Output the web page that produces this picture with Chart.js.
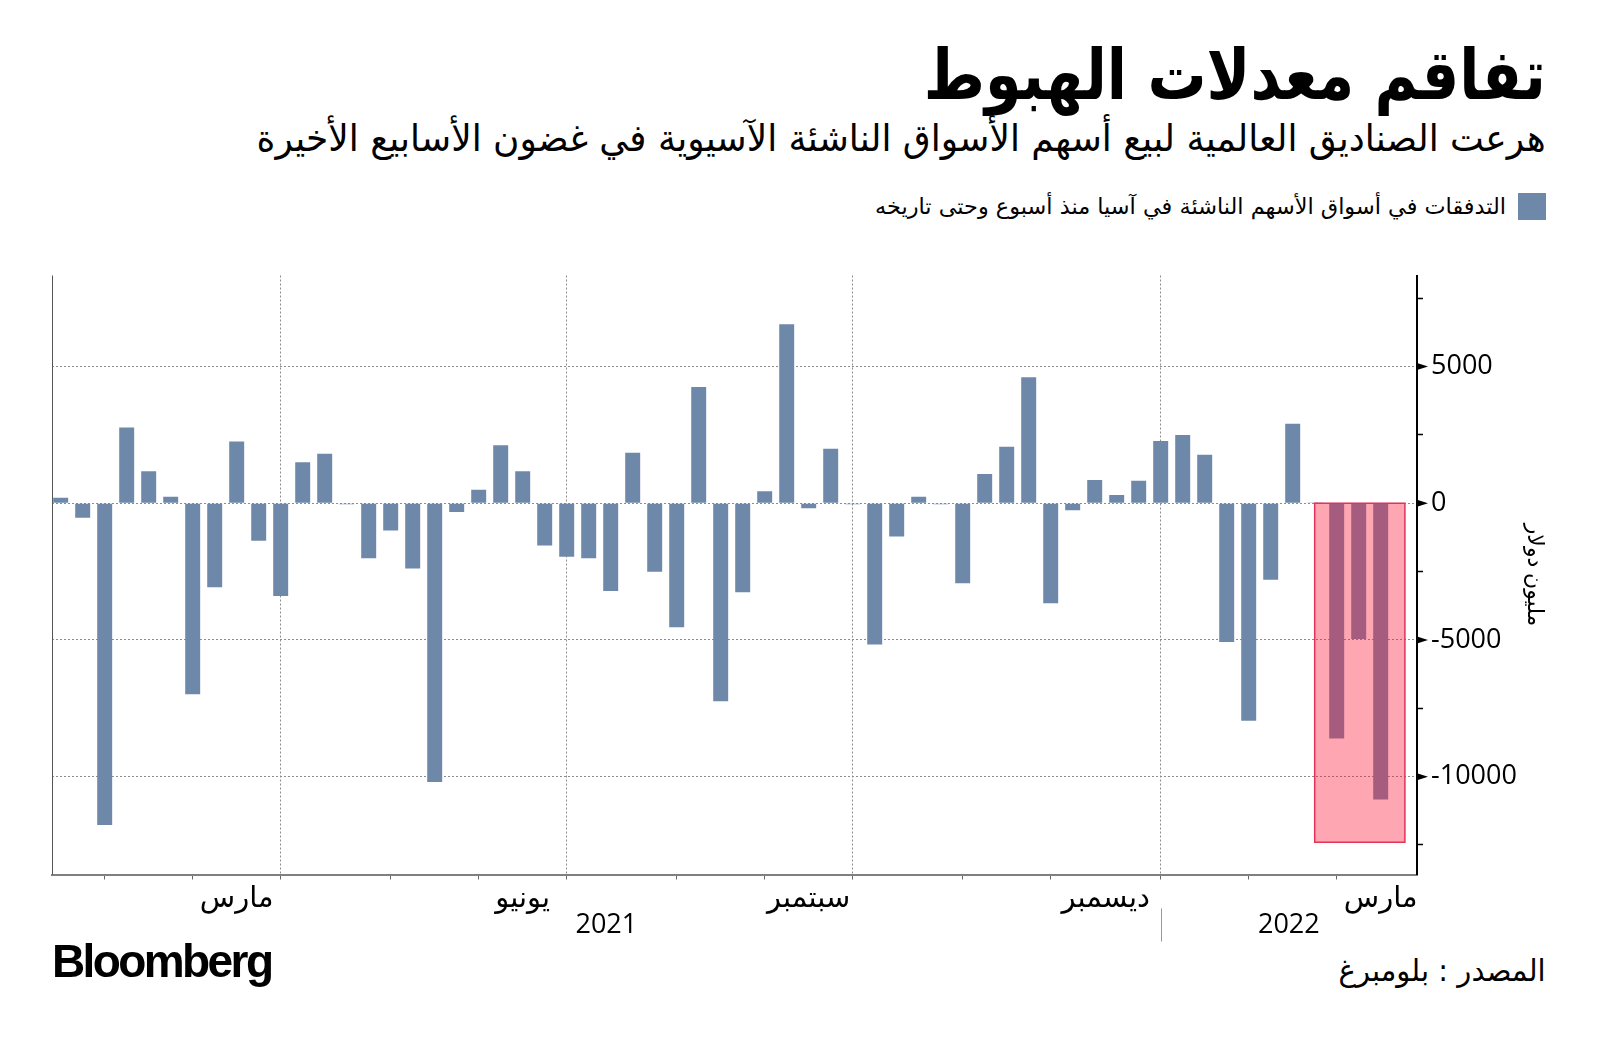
<!DOCTYPE html>
<html lang="ar">
<head>
<meta charset="utf-8">
<title>تفاقم معدلات الهبوط</title>
<script src="https://cdn.jsdelivr.net/npm/chart.js@4.4.1/dist/chart.umd.min.js"></script>
<style>
    html, body { margin: 0; padding: 0; background: #fff; }
    body { width: 1600px; height: 1045px; position: relative; overflow: hidden; font-family: 'DejaVu Sans', sans-serif; color: #000; }
    .txt { position: absolute; white-space: nowrap; line-height: 1; direction: rtl; transform-origin: right center; }
    #title { right: 54px; top: 40px; font-size: 70px; font-weight: bold; }
    #subtitle { right: 54px; top: 120px; font-size: 37px; }
    #legend-text { right: 94px; top: 196px; font-size: 22px; }
    #legend-box { position: absolute; left: 1518px; top: 193px; width: 28px; height: 27px; background: #6E88AA; }
    #source { right: 54px; top: 956px; font-size: 30px; }
    #logo { position: absolute; left: 52px; top: 938px; font-family: 'Liberation Sans', Arial, sans-serif; font-weight: bold; font-size: 46px; letter-spacing: -2.6px; line-height: 1; }
    #chart-wrap { position: absolute; left: 0; top: 230px; width: 1600px; height: 720px; }
</style>
</head>
<body>
<div id="title" class="txt" data-w="622">تفاقم معدلات الهبوط</div>
<div id="subtitle" class="txt" data-w="1289">هرعت الصناديق العالمية لبيع أسهم الأسواق الناشئة الآسيوية في غضون الأسابيع الأخيرة</div>
<div id="legend-box"></div>
<div id="legend-text" class="txt" data-w="631">التدفقات في أسواق الأسهم الناشئة في آسيا منذ أسبوع وحتى تاريخه</div>
<div id="chart-wrap"><canvas id="flows-chart" width="1600" height="720"></canvas></div>
<div id="logo">Bloomberg</div>
<div id="source" class="txt" data-w="207">المصدر : بلومبرغ</div>

<script>
const BAR_COLOR = '#6E88AA';
const GRID_COLOR = '#8c8c8c';

// weekly flows, million USD, first week ending 2021-01-22
const FIRST_WEEK = '2021-01-22';
const flows = [
    200, -530, -11770, 2770, 1170, 240, -6990, -3070, 2260, -1370,
    -3390, 1500, 1810, -40, -2010, -1000, -2390, -10200, -320, 490,
    2120, 1170, -1550, -1960, -2010, -3210, 1850, -2510, -4540, 4250,
    -7240, -3260, 440, 6550, -180, 1990, -40, -5170, -1220, 240,
    -40, -2930, 1070, 2070, 4610, -3660, -260, 850, 300, 820,
    2280, 2500, 1770, -5080, -7960, -2800, 2910, 30, -8610, -4970,
    -10840,
];

const MONTHS = ['يناير', 'فبراير', 'مارس', 'أبريل', 'مايو', 'يونيو', 'يوليو', 'أغسطس', 'سبتمبر', 'أكتوبر', 'نوفمبر', 'ديسمبر'];
const LABELED_MONTHS = [2, 5, 8, 11];
const QUARTER_MONTHS = [0, 3, 6, 9];
const Y_MIN = -13580;
const Y_MAX = 8330;
const Y_TICKS = [-12500, -10000, -7500, -5000, -2500, 0, 2500, 5000, 7500];
const Y_LABEL_STEP = 5000;
const Y_TITLE = 'مليون دولار';

// highlighted stretch: last three weeks
const HIGHLIGHT_FROM = 57;
const HIGHLIGHT_TO = 61.1;
const HIGHLIGHT_LOW = -12400;

/* ── week dates → month boundaries ─────────────────────── */
function weekDate(i) {
    const d = new Date(FIRST_WEEK + 'T00:00:00Z');
    d.setUTCDate(d.getUTCDate() + 7 * i);
    return d;
}

function monthStarts(count) {
    const out = [];
    for (let i = 1; i < count; i++) {
        const a = weekDate(i - 1), b = weekDate(i);
        if (a.getUTCMonth() !== b.getUTCMonth()) out.push({ index: i, month: b.getUTCMonth(), year: b.getUTCFullYear() });
    }
    return out;
}

const starts = monthStarts(flows.length + 6);
const xTicks = [];
starts.forEach((s, k) => {
    if (s.index < flows.length) xTicks.push({ value: s.index, label: '', quarter: QUARTER_MONTHS.includes(s.month), mark: true });
    const next = starts[k + 1];
    if (next && LABELED_MONTHS.includes(s.month) && s.index < flows.length)
        xTicks.push({ value: (s.index + next.index) / 2, label: MONTHS[s.month], quarter: false, mark: false });
});
const yearStarts = starts.filter(s => s.month === 0);

const isMajor = v => v % Y_LABEL_STEP === 0;

/* ── extra drawing ─────────────────────────────────────── */
const extras = {
    id: 'extras',
    beforeDatasetsDraw(chart) {
        const { ctx, chartArea: a } = chart;
        ctx.save();
        ctx.strokeStyle = '#555';
        ctx.lineWidth = 1;
        ctx.beginPath();
        ctx.moveTo(a.left + 0.5, a.top);
        ctx.lineTo(a.left + 0.5, a.bottom);
        ctx.stroke();
        ctx.restore();
    },
    afterDatasetsDraw(chart) {
        const { ctx, scales: { x, y } } = chart;
        const x1 = x.getPixelForValue(HIGHLIGHT_FROM), x2 = x.getPixelForValue(HIGHLIGHT_TO);
        const y1 = y.getPixelForValue(0), y2 = y.getPixelForValue(HIGHLIGHT_LOW);
        ctx.save();
        ctx.fillStyle = 'rgba(255, 21, 55, 0.38)';
        ctx.fillRect(x1, y1, x2 - x1, y2 - y1);
        ctx.strokeStyle = '#E2325A';
        ctx.lineWidth = 1.5;
        ctx.strokeRect(x1, y1, x2 - x1, y2 - y1);
        ctx.restore();
    },
    afterDraw(chart) {
        const { ctx, chartArea: a, scales: { x, y } } = chart;
        ctx.save();
        // major y ticks drawn as small arrows
        ctx.fillStyle = '#000';
        Y_TICKS.filter(isMajor).forEach(v => {
            const py = y.getPixelForValue(v);
            ctx.beginPath();
            ctx.moveTo(a.right, py - 3.5);
            ctx.lineTo(a.right + 11, py);
            ctx.lineTo(a.right, py + 3.5);
            ctx.closePath();
            ctx.fill();
        });

        // y title
        ctx.font = "22px 'Open Sans', 'DejaVu Sans', sans-serif";
        ctx.textAlign = 'center';
        ctx.textBaseline = 'middle';
        ctx.translate(1534, (a.top + a.bottom) / 2);
        ctx.rotate(Math.PI / 2);
        ctx.fillText(Y_TITLE, 0, 0);
        ctx.setTransform(1, 0, 0, 1, 0, 0);

        // years and separator
        ctx.font = "27px 'Open Sans', 'DejaVu Sans', sans-serif";
        const bounds = [x.min, ...yearStarts.map(s => s.index).filter(v => v < x.max), x.max];
        const firstYear = weekDate(0).getUTCFullYear();
        for (let k = 0; k < bounds.length - 1; k++) {
            const cx = (x.getPixelForValue(bounds[k]) + x.getPixelForValue(bounds[k + 1])) / 2;
            ctx.fillText(String(firstYear + k), cx, a.bottom + 51);
        }
        ctx.strokeStyle = '#999';
        ctx.lineWidth = 1;
        bounds.slice(1, -1).forEach(v => {
            const px = Math.round(x.getPixelForValue(v)) + 0.5;
            ctx.beginPath();
            ctx.moveTo(px, a.bottom + 34);
            ctx.lineTo(px, a.bottom + 67);
            ctx.stroke();
        });
        ctx.restore();
    }
};

new Chart(document.getElementById('flows-chart'), {
    type: 'bar',
    data: {
        datasets: [{
            data: flows.map((v, i) => ({ x: i, y: v })),
            backgroundColor: BAR_COLOR,
            barPercentage: 0.68,
            categoryPercentage: 1,
        }]
    },
    options: {
        responsive: false,
        animation: false,
        layout: { padding: { top: 45.5, left: 52, right: 0, bottom: 0 } },
        plugins: { legend: { display: false }, tooltip: { enabled: false } },
        scales: {
            x: {
                type: 'linear',
                min: -0.395,
                max: 61.65,
                offset: false,
                afterBuildTicks: s => { s.ticks = xTicks.map(t => ({ ...t })); },
                afterFit: s => { s.height = 75.5; },
                grid: {
                    offset: false,
                    color: c => (c.tick && c.tick.quarter ? GRID_COLOR : 'rgba(0,0,0,0)'),
                    tickColor: c => (c.tick && c.tick.mark ? '#666' : 'rgba(0,0,0,0)'),
                    tickLength: 5,
                    lineWidth: 1,
                },
                border: { color: '#808080', width: 2, dash: [2, 2] },
                ticks: {
                    autoSkip: false,
                    maxRotation: 0,
                    padding: 2,
                    color: '#000',
                    font: { family: "'Open Sans', 'DejaVu Sans', sans-serif", size: 29 },
                    callback: (v, i, ticks) => ticks[i].label,
                },
            },
            y: {
                position: 'right',
                min: Y_MIN,
                max: Y_MAX,
                afterBuildTicks: s => { s.ticks = Y_TICKS.map(v => ({ value: v })); },
                afterFit: s => { s.width = 183; },
                grid: {
                    color: c => (c.tick && isMajor(c.tick.value) ? GRID_COLOR : 'rgba(0,0,0,0)'),
                    tickColor: c => (c.tick && isMajor(c.tick.value) ? 'rgba(0,0,0,0)' : '#000'),
                    tickLength: 6,
                    tickWidth: 1.5,
                    lineWidth: 1,
                },
                border: { color: '#000', width: 2, dash: [2, 2] },
                ticks: {
                    autoSkip: false,
                    padding: 8,
                    color: '#000',
                    font: { family: "'Open Sans', 'DejaVu Sans', sans-serif", size: 27 },
                    callback: v => (isMajor(v) ? String(v) : ''),
                },
            },
        },
    },
    plugins: [extras],
});

/* ── squeeze headings to the reference widths ──────────── */
document.querySelectorAll('.txt[data-w]').forEach(el => {
    const w = el.getBoundingClientRect().width;
    const target = Number(el.dataset.w);
    if (w > 0) el.style.transform = `scaleX(${target / w})`;
});
</script>
</body>
</html>
